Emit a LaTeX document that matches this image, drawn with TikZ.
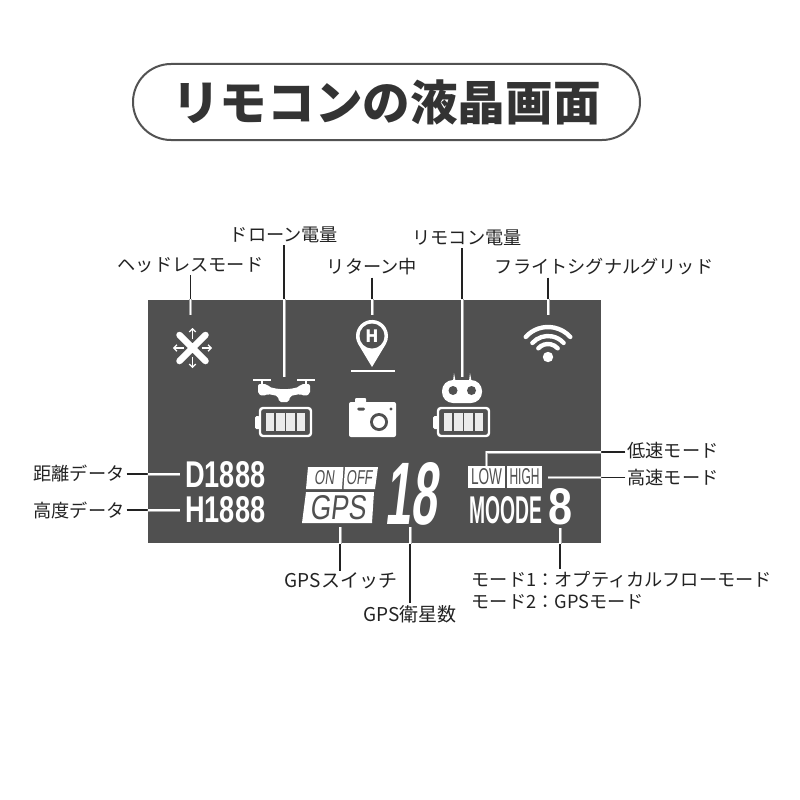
\documentclass[tikz,border=0pt]{standalone}
\usepackage{fontspec}
\setmainfont{Noto Sans CJK JP}
\newfontfamily\titlefont{Noto Sans CJK JP Black}
\newfontfamily\lcdfont{Liberation Sans}
\usetikzlibrary{positioning,arrows.meta}
\definecolor{panelgray}{HTML}{505050}
\definecolor{labelink}{HTML}{222222}
\definecolor{titleink}{HTML}{333333}
\newcommand{\lcdfit}[3]{\resizebox{#1pt}{#2pt}{\lcdfont #3}}
\tikzset{
    panel/.style={fill=panelgray, inner sep=0pt, minimum width=453pt, minimum height=243pt},
    titlebox/.style={draw=titleink!85, line width=2pt, rounded corners=38pt, inner sep=0pt, minimum width=507pt, minimum height=76pt},
    callout/.style={text=labelink, font=\fontsize{18.2}{22}\selectfont, inner sep=2pt},
    gpscallout/.style={callout, font=\fontsize{19}{22}\selectfont},
    lcd/.style={text=white, inner sep=0pt},
    lcdcut/.style={text=panelgray, inner sep=0pt},
    lcdslant/.style={transform shape, xslant=0.12},
    icon/.style={fill=white, draw=none},
    hole/.style={fill=panelgray, draw=none},
    tiltarrow/.style={white, line width=1.3pt, -{Straight Barb[length=3pt, width=6.5pt]}},
    leadline/.style={draw=labelink, line width=1.1pt},
    leadcase/.style={draw=gray!70, line width=3pt},
    leadcore/.style={draw=white, line width=1.4pt},
    leadpaths/.style={insert path={
        (lblHead.south -| icoHead) -- (icoHead)
        (lblDrone.south -| icoDrone) -- (icoDrone)
        (lblReturn.south -| icoReturn) -- (icoReturn)
        (lblRemote.south -| icoRemote) -- (icoRemote)
        (lblWifi.south -| icoWifi) -- (icoWifi)
        (lblDist.east |- icoDist) -- (icoDist)
        (lblAlt.east |- icoAlt) -- (icoAlt)
        (lblLow.west |- 0,452) -| (icoLow)
        (lblHigh.west |- icoHigh) -- (icoHigh)
        (lblSwitch.north -| icoSwitch) -- (icoSwitch)
        (lblSat.north -| icoSat) -- (icoSat)
        (lblMode.north -| icoMode) -- (icoMode)
    }},
    battery/.pic={
        \draw[white, line width=2.4pt, rounded corners=3pt] (0,0) rectangle (51,28);
        \fill[white, rounded corners=1.5pt] (-5,8) rectangle (0,21);
        \foreach \i in {0,1,2,3}
            \fill[white!92!black] (5.5+\i*10.4,5) rectangle ++(8.6,18);
    }
}
\begin{document}
\begin{tikzpicture}[x=1pt, y=-1pt]
    \useasboundingbox (0,0) rectangle (800,800);

    % Title
    \node[titlebox] (titlepill) at (386.5,102) {};
    \node[text=titleink, font=\titlefont\fontsize{47.6}{48}\selectfont, inner sep=0pt] (title) at (386.5,102) {リモコンの液晶画面};

    % Screen
    \node[panel] (panel) at (374.5,421.5) {};

    % Labels
    \node[callout] (lblHead) at (190.5,265) {ヘッドレスモード};
    \node[callout] (lblDrone) at (284,235) {ドローン電量};
    \node[callout] (lblReturn) at (372,267) {リターン中};
    \node[callout] (lblRemote) at (467,238) {リモコン電量};
    \node[callout] (lblWifi) at (604,267) {フライトシグナルグリッド};
    \node[callout] (lblDist) at (79,473) {距離データ};
    \node[callout] (lblAlt) at (79,510) {高度データ};
    \node[callout] (lblLow) at (673,451) {低速モード};
    \node[callout] (lblHigh) at (673,478) {高速モード};
    \node[gpscallout] (lblSwitch) at (341,581) {GPSスイッチ};
    \node[gpscallout] (lblSat) at (410,614) {GPS衛星数};
    \node[callout, align=left, anchor=north west] (lblMode) at (469.5,569) {モード1：オプティカルフローモード\\モード2：GPSモード};

    % Connector ends
    \coordinate (icoHead) at (190.5,315);
    \coordinate (icoDrone) at (284,377);
    \coordinate (icoReturn) at (372,315);
    \coordinate (icoRemote) at (462,377);
    \coordinate (icoWifi) at (548,315);
    \coordinate (icoDist) at (180,474);
    \coordinate (icoAlt) at (180,510);
    \coordinate (icoLow) at (486.5,466);
    \coordinate (icoHigh) at (548,477.5);
    \coordinate (icoSwitch) at (340,527);
    \coordinate (icoSat) at (410,527);
    \coordinate (icoMode) at (560,528);

    % Connectors
    \path[leadline, draw, leadpaths];
    \begin{scope}
        \clip (panel.north west) rectangle (panel.south east);
        \path[leadcase, draw, leadpaths];
        \path[leadcore, draw, leadpaths];
    \end{scope}

    % Headless icon
    \draw[white, line width=6.5pt, line cap=round] (179.5,335) -- (205.5,361) (205.5,335) -- (179.5,361);
    \draw[tiltarrow] (192.5,339) -- (192.5,328);
    \draw[tiltarrow] (192.5,357) -- (192.5,368);
    \draw[tiltarrow] (183.5,348) -- (173,348);
    \draw[tiltarrow] (201.5,348) -- (212,348);

    % Drone
    \draw[white, line width=2.2pt] (253,380) -- (271,380) (297,380) -- (315,380);
    \draw[white, line width=2.4pt] (262,380) -- (262,385) (306,380) -- (306,385);
    \fill[icon, rounded corners=2pt] (258,384) -- (267,384) -- (269,387) -- (278,389) -- (290,389) -- (299,387) -- (301,384) -- (310,384) -- (310,394) -- (305,396) -- (300,394) -- (290,396) -- (289,402) -- (279,402) -- (278,396) -- (268,394) -- (263,396) -- (258,394) -- cycle;
    \pic at (260,408) {battery};

    % Return pin
    \fill[icon] (372,367) -- (358.3,344.2) arc[start angle=149, end angle=391, radius=16] -- cycle;
    \fill[hole] (372,336) circle (12.5);
    \node[text=white, font=\bfseries\fontsize{17}{17}\selectfont, inner sep=0pt] (pinH) at (372,336) {H};
    \draw[white, line width=1.6pt] (351,371) -- (395,371);

    % Camera
    \fill[icon, rounded corners=2pt] (349,402) rectangle (396,437);
    \fill[icon, rounded corners=1pt] (355,398) rectangle (366,404);
    \fill[hole] (379,422) circle (9);
    \fill[icon] (379,422) circle (6);
    \fill[hole, rounded corners=1.5pt] (357,407.5) rectangle (365,410.5);
    \fill[hole] (391,409) circle (1.6);

    % Remote
    \fill[icon] (453,381) -- (454,373) -- (455.5,381) -- cycle;
    \fill[icon] (469,381) -- (470,373) -- (471.5,381) -- cycle;
    \fill[icon, rounded corners=11pt] (442,380) rectangle (482,403);
    \fill[hole] (453,390.5) circle (4.5);
    \fill[hole] (471.5,390.5) circle (4.5);
    \pic at (438,408) {battery};

    % Wifi
    \fill[icon] (548,357) circle (5.2);
    \foreach \r in {13,21,30}
        \draw[white, line width=4.4pt, line cap=round] (548,357) ++(-138:\r) arc[start angle=-138, end angle=-42, radius=\r];

    % LCD readouts
    \node[lcd, anchor=north west] (lcdDist) at (185,461) {\lcdfit{80}{26}{\bfseries D1888}};
    \node[lcd, anchor=north west] (lcdAlt) at (185,496) {\lcdfit{80}{26}{\bfseries H1888}};

    \fill[icon] (308,467) -- (343.5,467) -- (342,489) -- (306,489) -- cycle;
    \fill[icon] (345,467) -- (378,467) -- (375,489) -- (343.5,489) -- cycle;
    \fill[icon] (306,492) -- (374,492) -- (372,523) -- (302,523) -- cycle;
    \node[lcdcut, lcdslant] (lcdOn) at (325,478) {\lcdfit{20}{14}{ON}};
    \node[lcdcut, lcdslant] (lcdOff) at (360,478) {\lcdfit{26}{14}{OFF}};
    \node[lcdcut, lcdslant] (lcdGps) at (339,507.5) {\lcdfit{56}{24}{GPS}};
    \node[lcd, lcdslant] (lcdSat) at (414.5,494) {\lcdfit{52}{62}{\bfseries 18}};

    \fill[icon] (468,466) rectangle (505,488);
    \fill[icon] (507,466) rectangle (542,488);
    \node[lcdcut] (lcdLow) at (486.5,477) {\lcdfit{31}{16}{LOW}};
    \node[lcdcut] (lcdHigh) at (524.5,477) {\lcdfit{30}{16}{HIGH}};
    \node[lcd, anchor=north west] (lcdMoode) at (469,496) {\lcdfit{73}{27}{\bfseries MOODE}};
    \node[lcd, anchor=north west] (lcdGear) at (548,488) {\lcdfit{24}{36}{\bfseries 8}};
\end{tikzpicture}
\end{document}
